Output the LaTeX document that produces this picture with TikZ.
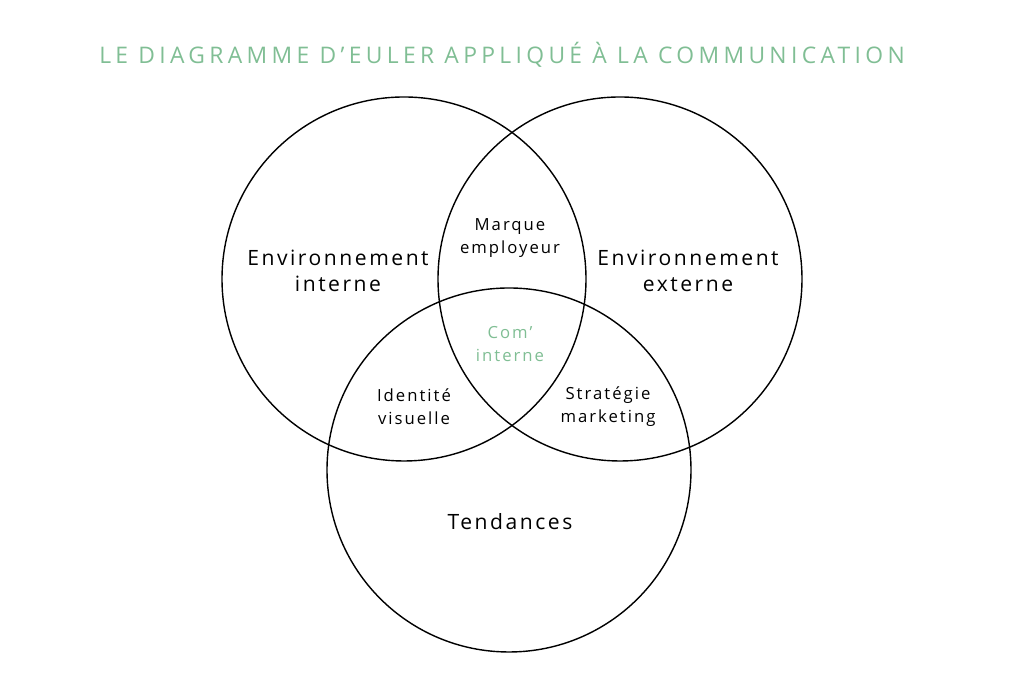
\documentclass[tikz,border=0pt]{standalone}
\usepackage{fontspec}
\setmainfont[LetterSpace=12]{Open Sans}
\newfontfamily\titlefont[LetterSpace=19]{Open Sans}
\definecolor{eulergreen}{RGB}{128,190,148}
\begin{document}
\begin{tikzpicture}
	[set/.style={circle,draw,thick,minimum size=7.28cm,inner sep=0pt},
		big label/.style={align=center,font=\fontsize{12}{15}\selectfont},
		small label/.style={align=center,font=\fontsize{9.5}{13}\selectfont}]
	\useasboundingbox (0,0) rectangle (20.48,13.66);

	\node[set] (interne) at (8.08,8.08) {};
	\node[set] (externe) at (12.4,8.08) {};
	\node[set] (tendances) at (10.18,4.26) {};

	\node[text=eulergreen,font=\titlefont\fontsize{13}{15}\selectfont] (title) at (10.04,12.56) {LE DIAGRAMME D’EULER APPLIQUÉ À LA COMMUNICATION};

	\node[big label] (envint) at (6.76,8.24) {Environnement\\interne};
	\node[big label] (envext) at (13.76,8.24) {Environnement\\externe};
	\node[big label] (tend) at (10.2,3.22) {Tendances};
	\node[small label] (marque) at (10.2,8.9) {Marque\\employeur};
	\node[small label,text=eulergreen] (com) at (10.2,6.78) {Com’\\interne};
	\node[small label] (identite) at (8.28,5.52) {Identité\\visuelle};
	\node[small label] (strategie) at (12.16,5.52) {Stratégie\\marketing};
\end{tikzpicture}
\end{document}
